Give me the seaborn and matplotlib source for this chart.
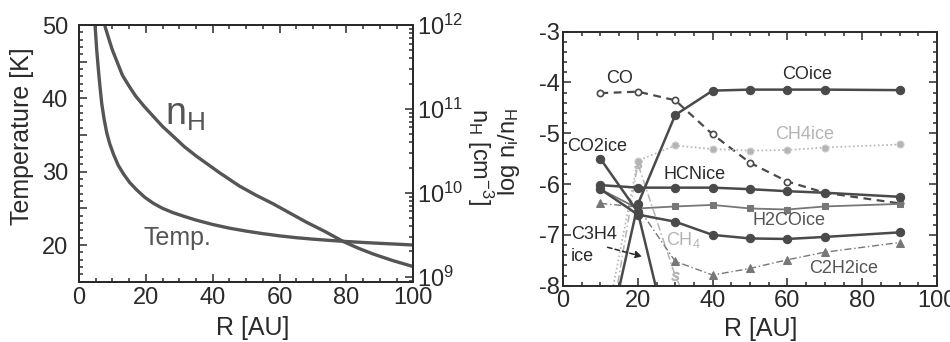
import numpy as np
import pandas as pd
import matplotlib
matplotlib.use("Agg")
import matplotlib.pyplot as plt
from matplotlib.ticker import MultipleLocator, FuncFormatter, LogLocator, LogFormatterMathtext, NullFormatter
import seaborn as sns

# ---------------- data: left panel ----------------
r_temp = [4.8, 5.3, 5.8, 6.3, 6.8, 7.5, 8.3, 9.2, 10.3, 11.7, 13.3, 15.2, 17.3, 19.7, 22.2,
          25.0, 28.2, 31.5, 35, 40, 45, 50, 55, 60, 65, 70, 75, 80, 85, 90, 95, 100]
temp_k = [50.0, 46.6, 43.9, 41.5, 39.3, 37.2, 35.3, 33.8, 32.4, 30.9, 29.7, 28.5, 27.5, 26.5, 25.7,
          25.0, 24.4, 23.9, 23.4, 22.8, 22.3, 21.9, 21.55, 21.25, 21.0, 20.8, 20.63, 20.48, 20.35,
          20.23, 20.12, 20.0]
r_nh = [7.8, 8.5, 9.2, 10, 11.5, 13, 15, 17, 19.5, 22, 25, 28, 31.5, 35, 38.5, 42, 48, 53, 58,
        63, 68, 73.5, 79, 83.5, 88, 94, 100]
log_nh = [11.98, 11.89, 11.80, 11.70, 11.55, 11.40, 11.27, 11.15, 11.03, 10.92, 10.79, 10.68,
          10.55, 10.44, 10.34, 10.24, 10.08, 9.97, 9.87, 9.76, 9.65, 9.54, 9.42, 9.34, 9.27,
          9.19, 9.12]

# ---------------- data: right panel ----------------
r_all = [10, 20, 30, 40, 50, 60, 70, 90]
co = [-4.21, -4.18, -4.35, -5.02, -5.58, -5.95, -6.17, -6.38]
co_ice = [-9.7, -6.4, -4.64, -4.16, -4.14, -4.14, -4.14, -4.15]
ch4_ice = [-9.3, -5.54, -5.24, -5.31, -5.34, -5.33, -5.28, -5.22]
hcn_ice = [-6.02, -6.07, -6.07, -6.07, -6.10, -6.14, -6.17, -6.25]
c3h4_ice = [-6.1, -6.6, -6.74, -7.0, -7.07, -7.08, -7.04, -6.95]
h2co_ice = [-6.1, -6.48, -6.44, -6.41, -6.48, -6.5, -6.44, -6.39]
c2h2_ice = [-6.38, -6.45, -7.52, -7.79, -7.66, -7.49, -7.34, -7.15]
r_co2 = [10, 20, 30]
co2_ice = [-5.5, -6.55, -9.6]
r_ch4 = [10, 20, 30, 40]
ch4 = [-10.0, -5.6, -7.8, -9.5]

# ---------------- style ----------------
sns.set_style("ticks")
plt.rcParams["font.family"] = ["Liberation Sans", "DejaVu Sans"]
plt.rcParams["mathtext.fontset"] = "custom"
plt.rcParams["mathtext.rm"] = "Liberation Sans"
plt.rcParams["mathtext.it"] = "Liberation Sans:italic"
plt.rcParams["mathtext.bf"] = "Liberation Sans:bold"

INK = "#2a2a2a"
DARK = "#4a4a4a"
MID = "#777777"
LIGHT = "#b4b4b4"

fig = plt.figure(figsize=(9.5, 3.42), dpi=100)
W, H = 950.0, 342.0

def add_ax(x0, y0, x1, y1):
    return fig.add_axes([x0 / W, 1 - y1 / H, (x1 - x0) / W, (y1 - y0) / H])

# ================= left panel =================
ax1 = add_ax(79, 25, 413.3, 281.7)
ax2 = ax1.twinx()

sns.lineplot(x=r_temp, y=temp_k, ax=ax1, color="#555555", linewidth=2.4, estimator=None)
nh_vals = 10.0 ** np.array(log_nh)
ax2.set_yscale("log")
sns.lineplot(x=r_nh, y=nh_vals, ax=ax2, color="#555555", linewidth=2.4, estimator=None)

ax1.set_xlim(0, 100)
ax1.set_ylim(15, 50)
ax2.set_ylim(10 ** 8.94, 1e12)

ax1.xaxis.set_major_locator(MultipleLocator(20))
ax1.xaxis.set_minor_locator(MultipleLocator(5))
ax1.yaxis.set_major_locator(MultipleLocator(5))
ax1.yaxis.set_minor_locator(MultipleLocator(1))
ax1.yaxis.set_major_formatter(FuncFormatter(lambda v, p: f"{v:.0f}" if abs(v % 10) < 1e-6 else ""))

ax1.tick_params(axis="both", which="both", direction="in", top=True, right=False,
                labelsize=17, colors=INK, width=1.1)
ax1.tick_params(axis="both", which="major", length=6)
ax1.tick_params(axis="both", which="minor", length=3)
ax1.tick_params(axis="y", which="major", pad=8)
ax1.tick_params(axis="x", which="major", pad=4)

ax2.yaxis.set_major_locator(LogLocator(base=10, numticks=10))
ax2.yaxis.set_minor_locator(LogLocator(base=10, subs=np.arange(2, 10), numticks=20))
ax2.yaxis.set_major_formatter(LogFormatterMathtext())
ax2.yaxis.set_minor_formatter(NullFormatter())
ax2.tick_params(axis="y", which="both", direction="in", labelsize=17, colors=INK, width=1.1, pad=3)
ax2.tick_params(axis="y", which="major", length=6)
ax2.tick_params(axis="y", which="minor", length=3)

for a in (ax1, ax2):
    for s in a.spines.values():
        s.set_color(INK)
        s.set_linewidth(1.4)

ax1.set_xlabel("R [AU]", fontsize=18, color=INK)
ax1.xaxis.set_label_coords(0.52, -0.135)
ax1.set_ylabel("Temperature [K]", fontsize=18, color=INK)
ax1.yaxis.set_label_coords(-0.135, 0.567)
ax2.set_ylabel(r"n$_{\rm H}$ [cm$^{-3}$]", fontsize=17, color=INK, rotation=270, va="center", ha="center")
ax2.yaxis.set_label_coords(1.2, 0.486)

ax1.text(31.7, 37.7, r"n$_{\rm H}$", fontsize=27, color="#555555", ha="center", va="center")
ax1.text(19.2, 20.9, "Temp.", fontsize=18, color="#555555", ha="left", va="center")

# ================= right panel =================
ax3 = add_ax(563, 31.7, 937, 285.7)

sns.lineplot(x=r_all, y=co, ax=ax3, color=DARK, linewidth=1.6, linestyle=(0, (3.5, 2.5)),
             marker="o", markersize=4.5, markerfacecolor="white", markeredgecolor=DARK,
             markeredgewidth=1.2, estimator=None)
sns.lineplot(x=r_all, y=ch4_ice, ax=ax3, color=LIGHT, linewidth=1.2, linestyle=(0, (1, 1.5)),
             marker="o", markersize=5, markerfacecolor=LIGHT, markeredgecolor="#cccccc",
             estimator=None)
sns.lineplot(x=r_ch4, y=ch4, ax=ax3, color=LIGHT, linewidth=1.1, linestyle=(0, (5, 2, 1, 2)),
             marker="$S$", markersize=6, markeredgecolor=LIGHT, markerfacecolor=LIGHT,
             estimator=None)
sns.lineplot(x=r_all, y=c2h2_ice, ax=ax3, color=MID, linewidth=1.0, linestyle=(0, (5, 2, 1, 2)),
             marker="^", markersize=6, markerfacecolor=MID, markeredgecolor=MID, estimator=None)
sns.lineplot(x=r_all, y=h2co_ice, ax=ax3, color=MID, linewidth=1.3, linestyle="-",
             marker="s", markersize=4.5, markerfacecolor=MID, markeredgecolor=MID, estimator=None)
sns.lineplot(x=r_all, y=c3h4_ice, ax=ax3, color=DARK, linewidth=1.8, linestyle="-",
             marker="o", markersize=6, markerfacecolor=DARK, markeredgecolor=DARK, estimator=None)
sns.lineplot(x=r_all, y=hcn_ice, ax=ax3, color=DARK, linewidth=1.8, linestyle="-",
             marker="o", markersize=6, markerfacecolor=DARK, markeredgecolor=DARK, estimator=None)
sns.lineplot(x=r_co2, y=co2_ice, ax=ax3, color=DARK, linewidth=1.8, linestyle="-",
             marker="o", markersize=6, markerfacecolor=DARK, markeredgecolor=DARK, estimator=None)
sns.lineplot(x=r_all, y=co_ice, ax=ax3, color=DARK, linewidth=1.8, linestyle="-",
             marker="o", markersize=6, markerfacecolor=DARK, markeredgecolor=DARK, estimator=None)

ax3.set_xlim(0, 100)
ax3.set_ylim(-8, -3)
ax3.xaxis.set_major_locator(MultipleLocator(20))
ax3.xaxis.set_minor_locator(MultipleLocator(5))
ax3.yaxis.set_major_locator(MultipleLocator(1))
ax3.yaxis.set_minor_locator(MultipleLocator(0.2))
ax3.yaxis.set_major_formatter(FuncFormatter(lambda v, p: f"{v:.0f}"))
ax3.tick_params(axis="both", which="both", direction="in", top=True, right=True,
                labelsize=17, colors=INK, width=1.1)
ax3.tick_params(axis="both", which="major", length=6)
ax3.tick_params(axis="both", which="minor", length=3)
ax3.tick_params(axis="y", which="major", pad=2)
ax3.tick_params(axis="x", which="major", pad=3)
for s in ax3.spines.values():
    s.set_color(INK)
    s.set_linewidth(1.4)

ax3.set_xlabel("R [AU]", fontsize=18, color=INK)
ax3.xaxis.set_label_coords(0.529, -0.125)
ax3.set_ylabel(r"log n$_{\rm i}$/n$_{\rm H}$", fontsize=17, color=INK)
ax3.yaxis.set_label_coords(-0.11, 0.526)

lab = dict(fontsize=13, ha="center", va="center")
ax3.text(15.2, -3.92, "CO", color=INK, **lab)
ax3.text(65.2, -3.85, "COice", color=INK, **lab)
ax3.text(64.7, -5.03, "CH4ice", color=LIGHT, **lab)
ax3.text(1.0, -5.26, "CO2ice", color=INK, fontsize=13, ha="left", va="center")
ax3.text(35.3, -5.82, "HCNice", color=INK, **lab)
ax3.text(60.3, -6.71, "H2COice", color="#555555", **lab)
ax3.text(2.1, -7.0, "C3H4", color=INK, fontsize=13, ha="left", va="center")
ax3.text(2.1, -7.42, "ice", color=INK, fontsize=13, ha="left", va="center")
ax3.text(32.2, -7.1, r"CH$_4$", color=LIGHT, **lab)
ax3.text(75.0, -7.66, "C2H2ice", color="#555555", **lab)
ax3.annotate("", xy=(21.9, -7.44), xytext=(11.2, -7.23),
             arrowprops=dict(arrowstyle="-|>", color=INK, lw=1.1, linestyle=(0, (3, 2)),
                             mutation_scale=10))

fig.savefig("out.png", dpi=100)
